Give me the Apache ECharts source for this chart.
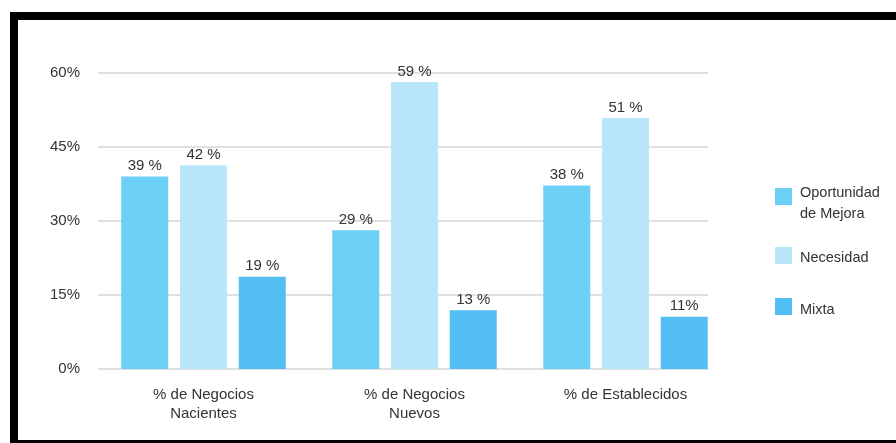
<!DOCTYPE html>
<html>
<head>
<meta charset="utf-8">
<script src="https://cdn.jsdelivr.net/npm/echarts@6/dist/echarts.min.js"></script>
<style>
html,body{margin:0;padding:0;background:#fff;}
#chart{width:896px;height:443px;}
</style>
</head>
<body>
<div id="chart"></div>
<script>
var categories = ['% de Negocios\nNacientes', '% de Negocios\nNuevos', '% de Establecidos'];
var seriesNames = ['Oportunidad de Mejora', 'Necesidad', 'Mixta'];
// bar heights
var oportunidad = [39.0, 28.1, 37.2];
var necesidad = [41.3, 58.2, 50.9];
var mixta = [18.7, 11.9, 10.6];
// value labels as printed in the picture
var oportunidadLabels = ['39 %', '29 %', '38 %'];
var necesidadLabels = ['42 %', '59 %', '51 %'];
var mixtaLabels = ['19 %', '13 %', '11%'];
var yTicks = [0, 15, 30, 45, 60];

var colors = ['#6ccff6', '#bae6fa', '#52bef3'];
var FONT = '"Liberation Sans", Arial, Helvetica, sans-serif';
var TXT = '#333333';

function barSeries(name, data, labels, color) {
  return {
    name: name,
    type: 'bar',
    xAxisIndex: 1,
    yAxisIndex: 1,
    data: data,
    barWidth: 47,
    barGap: '25%',
    itemStyle: { color: color },
    label: {
      show: true,
      position: 'top',
      distance: 3,
      fontFamily: FONT,
      fontSize: 15,
      color: TXT,
      formatter: function (p) { return labels[p.dataIndex]; }
    }
  };
}

function legendText(spacer) {
  return {
    fontFamily: FONT, fontSize: 14.5, color: TXT, lineHeight: 21,
    rich: {
      g: { lineHeight: spacer, fontSize: 1 },
      t: { fontFamily: FONT, fontSize: 14.5, color: TXT, lineHeight: 21, padding: [0, 0, 0, 3] }
    }
  };
}

var chart = echarts.init(document.getElementById('chart'), null, { renderer: 'canvas' });
var option = {
  backgroundColor: '#ffffff',
  animation: false,
  color: colors,
  grid: [
    { left: 98, right: 188, top: 73, bottom: 74 },
    { left: 98, right: 165, top: 73, bottom: 74 }
  ],
  xAxis: [
    { type: 'value', gridIndex: 0, min: 0, max: 1, show: false },
    {
      type: 'category', gridIndex: 1, data: categories,
      axisLine: { show: false }, axisTick: { show: false },
      axisLabel: { fontFamily: FONT, fontSize: 15, color: TXT, lineHeight: 19, margin: 16, interval: 0 }
    }
  ],
  yAxis: [
    {
      type: 'value', gridIndex: 0, min: yTicks[0], max: yTicks[yTicks.length - 1], interval: 15,
      axisLine: { show: false }, axisTick: { show: false },
      axisLabel: { fontFamily: FONT, fontSize: 15, color: TXT, margin: 18, formatter: '{value}%' },
      splitLine: { show: true, lineStyle: { color: '#e0e0e0', width: 2 } }
    },
    { type: 'value', gridIndex: 1, min: yTicks[0], max: yTicks[yTicks.length - 1], show: false }
  ],
  legend: [
    {
      data: [seriesNames[0]], orient: 'vertical', left: 775, top: 168.5, padding: 0,
      itemWidth: 17, itemHeight: 17, icon: 'rect', selectedMode: false,
      formatter: function () { return '{g| }\n{t|Oportunidad}\n{t|de Mejora}'; },
      textStyle: legendText(14)
    },
    {
      data: [seriesNames[1]], orient: 'vertical', left: 775, top: 242.5, padding: 0,
      itemWidth: 17, itemHeight: 17, icon: 'rect', selectedMode: false,
      formatter: function (n) { return '{g| }\n{t|' + n + '}'; },
      textStyle: legendText(5)
    },
    {
      data: [seriesNames[2]], orient: 'vertical', left: 775, top: 292.5, padding: 0,
      itemWidth: 17, itemHeight: 17, icon: 'rect', selectedMode: false,
      formatter: function (n) { return '{g| }\n{t|' + n + '}'; },
      textStyle: legendText(7)
    }
  ],
  graphic: [
    { type: 'rect', shape: { x: 10, y: 12, width: 900, height: 8 }, style: { fill: '#000' }, silent: true },
    { type: 'rect', shape: { x: 10, y: 12, width: 8, height: 440 }, style: { fill: '#000' }, silent: true },
    { type: 'rect', shape: { x: 10, y: 440, width: 900, height: 8 }, style: { fill: '#000' }, silent: true }
  ],
  series: [
    barSeries(seriesNames[0], oportunidad, oportunidadLabels, colors[0]),
    barSeries(seriesNames[1], necesidad, necesidadLabels, colors[1]),
    barSeries(seriesNames[2], mixta, mixtaLabels, colors[2])
  ]
};
chart.setOption(option);
</script>
</body>
</html>
